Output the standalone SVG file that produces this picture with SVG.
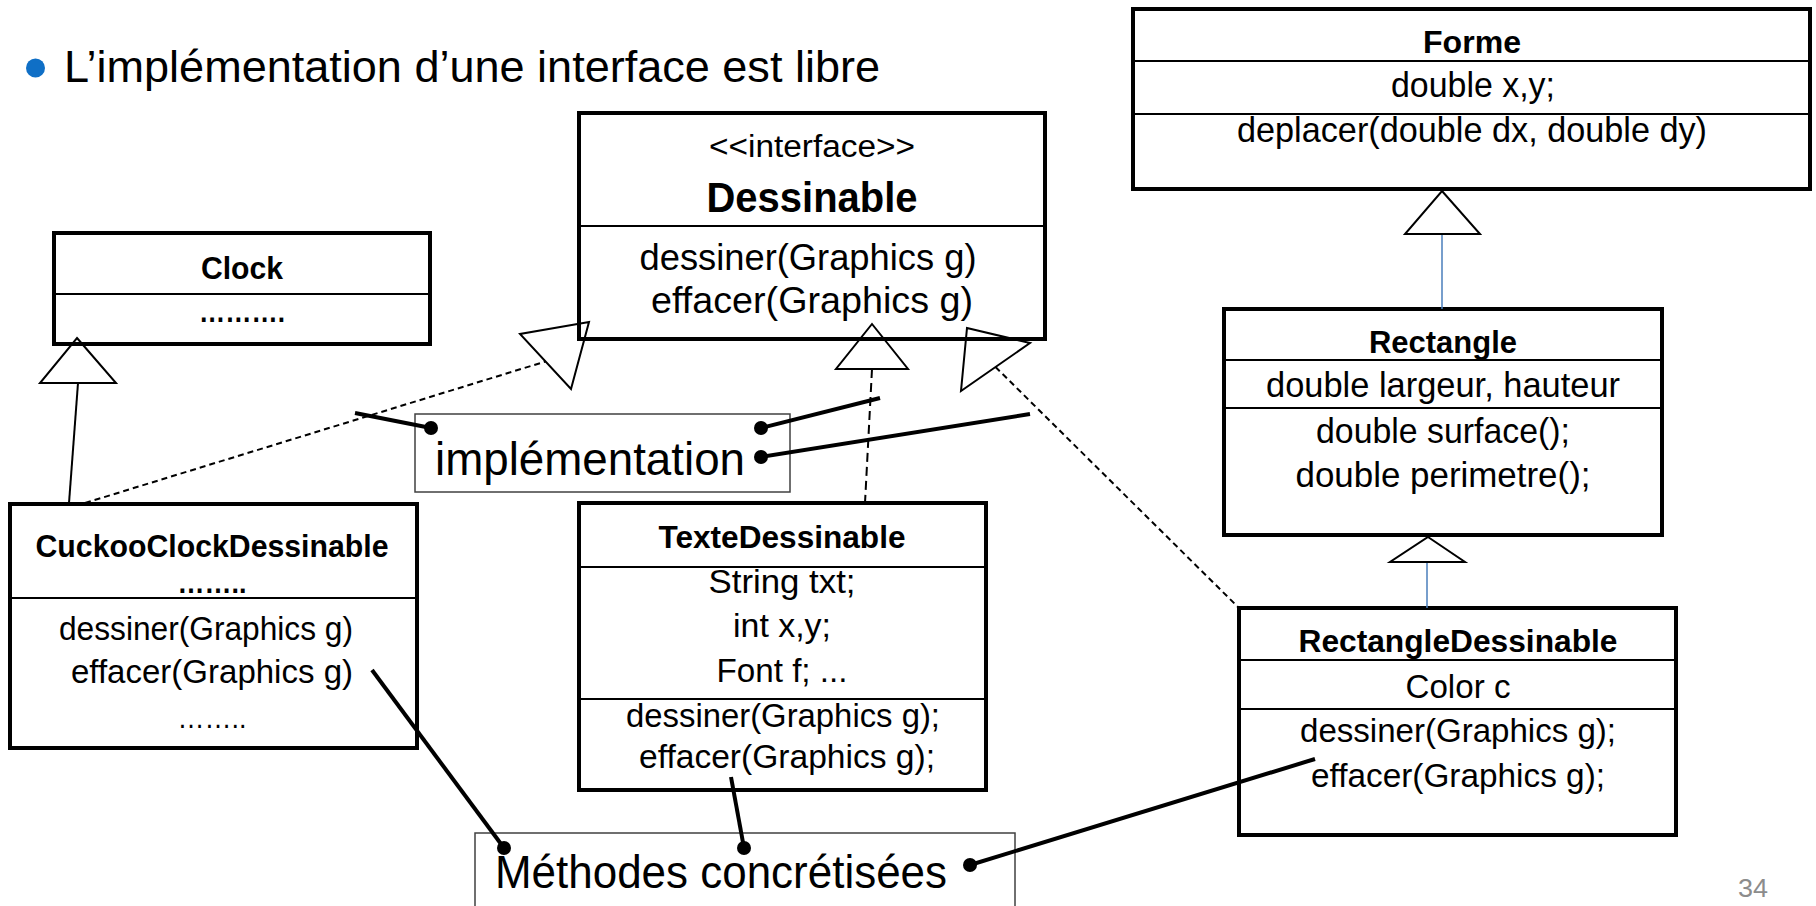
<svg xmlns="http://www.w3.org/2000/svg" width="1816" height="906" viewBox="0 0 1816 906">
<style>
.bg{fill:#fff}
.box{fill:#fff;stroke:#000;stroke-width:4}
.dv{stroke:#000;stroke-width:2}
.t{font-family:"Liberation Sans",Arial,sans-serif;fill:#000;text-anchor:middle}
.l{text-anchor:start}
.b{font-weight:bold}
.tri{fill:none;stroke:#000;stroke-width:2;stroke-linejoin:miter}
.dash{fill:none;stroke:#000;stroke-width:2;stroke-dasharray:6 4}
.dash2{fill:none;stroke:#000;stroke-width:2;stroke-dasharray:9 5}
.solid{fill:none;stroke:#000;stroke-width:2}
.call{fill:none;stroke:#000;stroke-width:4}
.blue{fill:none;stroke:#4A7EBB;stroke-width:1.5}
.note{fill:#fff;stroke:#404040;stroke-width:1.5}
</style>
<rect class="bg" x="0" y="0" width="1816" height="906"/>
<g id="title">
<circle cx="35.5" cy="68" r="9.5" fill="#0F6FC6"/>
<text class="t l" x="64" y="82" font-size="45" textLength="816" lengthAdjust="spacingAndGlyphs">L’implémentation d’une interface est libre</text>
</g>
<g id="node-forme">
<rect class="box" x="1133" y="9" width="677" height="180"/>
<line class="dv" x1="1133" y1="61" x2="1810" y2="61"/>
<line class="dv" x1="1133" y1="114" x2="1810" y2="114"/>
<text class="t b" x="1472" y="53" font-size="32" textLength="98" lengthAdjust="spacingAndGlyphs">Forme</text>
<text class="t" x="1473" y="97" font-size="35" textLength="164" lengthAdjust="spacingAndGlyphs">double x,y;</text>
<text class="t" x="1472" y="142" font-size="35" textLength="470" lengthAdjust="spacingAndGlyphs">deplacer(double dx, double dy)</text>
</g>
<g id="node-dessinable">
<rect class="box" x="579" y="113" width="466" height="226"/>
<line class="dv" x1="579" y1="226" x2="1045" y2="226"/>
<text class="t" x="812" y="157" font-size="31" textLength="206" lengthAdjust="spacingAndGlyphs">&lt;&lt;interface&gt;&gt;</text>
<text class="t b" x="812" y="212" font-size="42" textLength="211" lengthAdjust="spacingAndGlyphs">Dessinable</text>
<text class="t" x="808" y="270" font-size="37" textLength="337" lengthAdjust="spacingAndGlyphs">dessiner(Graphics g)</text>
<text class="t" x="812" y="313" font-size="37" textLength="322" lengthAdjust="spacingAndGlyphs">effacer(Graphics g)</text>
</g>
<g id="node-clock">
<rect class="box" x="54" y="233" width="376" height="111"/>
<line class="dv" x1="54" y1="294" x2="430" y2="294"/>
<text class="t b" x="242" y="279" font-size="32" textLength="82" lengthAdjust="spacingAndGlyphs">Clock</text>
<text class="t b" x="242" y="322" font-size="30" textLength="86" lengthAdjust="spacingAndGlyphs">……….</text>
</g>
<g id="node-rectangle">
<rect class="box" x="1224" y="309" width="438" height="226"/>
<line class="dv" x1="1224" y1="360" x2="1662" y2="360"/>
<line class="dv" x1="1224" y1="408" x2="1662" y2="408"/>
<text class="t b" x="1443" y="353" font-size="32" textLength="148" lengthAdjust="spacingAndGlyphs">Rectangle</text>
<text class="t" x="1443" y="397" font-size="35" textLength="354" lengthAdjust="spacingAndGlyphs">double largeur, hauteur</text>
<text class="t" x="1443" y="443" font-size="35" textLength="254" lengthAdjust="spacingAndGlyphs">double surface();</text>
<text class="t" x="1443" y="487" font-size="35" textLength="295" lengthAdjust="spacingAndGlyphs">double perimetre();</text>
</g>
<g id="node-cuckoo">
<rect class="box" x="10" y="504" width="407" height="244"/>
<line class="dv" x1="10" y1="598" x2="417" y2="598"/>
<text class="t b" x="212" y="557" font-size="32" textLength="353" lengthAdjust="spacingAndGlyphs">CuckooClockDessinable</text>
<text class="t b" x="212" y="593" font-size="30" textLength="69" lengthAdjust="spacingAndGlyphs">……..</text>
<text class="t" x="206" y="640" font-size="34" textLength="294" lengthAdjust="spacingAndGlyphs">dessiner(Graphics g)</text>
<text class="t" x="212" y="683" font-size="34" textLength="282" lengthAdjust="spacingAndGlyphs">effacer(Graphics g)</text>
<text class="t" x="212" y="728" font-size="30" textLength="69" lengthAdjust="spacingAndGlyphs">……..</text>
</g>
<g id="node-texte">
<rect class="box" x="579" y="503" width="407" height="287"/>
<line class="dv" x1="579" y1="567" x2="986" y2="567"/>
<line class="dv" x1="579" y1="699" x2="986" y2="699"/>
<text class="t b" x="782" y="548" font-size="32" textLength="247" lengthAdjust="spacingAndGlyphs">TexteDessinable</text>
<text class="t" x="782" y="593" font-size="34" textLength="147" lengthAdjust="spacingAndGlyphs">String txt;</text>
<text class="t" x="782" y="637" font-size="34" textLength="98" lengthAdjust="spacingAndGlyphs">int x,y;</text>
<text class="t" x="782" y="682" font-size="34" textLength="131" lengthAdjust="spacingAndGlyphs">Font f; ...</text>
<text class="t" x="783" y="727" font-size="34" textLength="314" lengthAdjust="spacingAndGlyphs">dessiner(Graphics g);</text>
<text class="t" x="787" y="768" font-size="34" textLength="296" lengthAdjust="spacingAndGlyphs">effacer(Graphics g);</text>
</g>
<g id="node-rectdess">
<rect class="box" x="1239" y="608" width="437" height="227"/>
<line class="dv" x1="1239" y1="660" x2="1676" y2="660"/>
<line class="dv" x1="1239" y1="709" x2="1676" y2="709"/>
<text class="t b" x="1458" y="652" font-size="32" textLength="319" lengthAdjust="spacingAndGlyphs">RectangleDessinable</text>
<text class="t" x="1458" y="698" font-size="34" textLength="105" lengthAdjust="spacingAndGlyphs">Color c</text>
<text class="t" x="1458" y="742" font-size="34" textLength="316" lengthAdjust="spacingAndGlyphs">dessiner(Graphics g);</text>
<text class="t" x="1458" y="787" font-size="34" textLength="294" lengthAdjust="spacingAndGlyphs">effacer(Graphics g);</text>
</g>
<g id="note-implementation">
<rect class="note" x="415" y="414" width="375" height="78"/>
<text class="t l" x="435" y="475" font-size="46" textLength="310" lengthAdjust="spacingAndGlyphs">implémentation</text>
</g>
<g id="note-methodes">
<rect class="note" x="475" y="833" width="540" height="90"/>
<text class="t l" x="495" y="888" font-size="46" textLength="452" lengthAdjust="spacingAndGlyphs">Méthodes concrétisées</text>
</g>
<g id="connectors">
<line class="solid" x1="78" y1="383" x2="69" y2="503"/>
<polygon class="tri" points="77,338 116,383 40,383"/>
<line class="dash" x1="85" y1="503" x2="545.5" y2="361.5"/>
<polygon class="tri" points="589,322 571,389 520,334"/>
<line class="dash2" x1="872" y1="369" x2="865" y2="503"/>
<polygon class="tri" points="872,324 908,369 836,369"/>
<line class="dash" x1="995.5" y1="367" x2="1239" y2="608"/>
<polygon class="tri" points="967,328 1030,343 961,391"/>
<line class="blue" x1="1442" y1="234" x2="1442" y2="309"/>
<polygon class="tri" points="1442,191 1480,234 1405,234"/>
<line class="blue" x1="1427" y1="562" x2="1427" y2="608"/>
<polygon class="tri" points="1428,537 1465,562 1390,562"/>
<line class="call" x1="355" y1="413" x2="431" y2="428"/>
<circle cx="431" cy="428" r="7"/>
<line class="call" x1="761" y1="428" x2="880" y2="398"/>
<circle cx="761" cy="428" r="7"/>
<line class="call" x1="761" y1="457" x2="1030" y2="414"/>
<circle cx="761" cy="457" r="7"/>
<line class="call" x1="372" y1="670" x2="504" y2="848"/>
<circle cx="504" cy="848" r="7"/>
<line class="call" x1="731" y1="777" x2="744" y2="848"/>
<circle cx="744" cy="848" r="7"/>
<line class="call" x1="970" y1="865" x2="1315" y2="759"/>
<circle cx="970" cy="865" r="7"/>
</g>
<text class="t" x="1753" y="897" font-size="26" style="fill:#8C8C8C" textLength="30" lengthAdjust="spacingAndGlyphs">34</text>
</svg>
